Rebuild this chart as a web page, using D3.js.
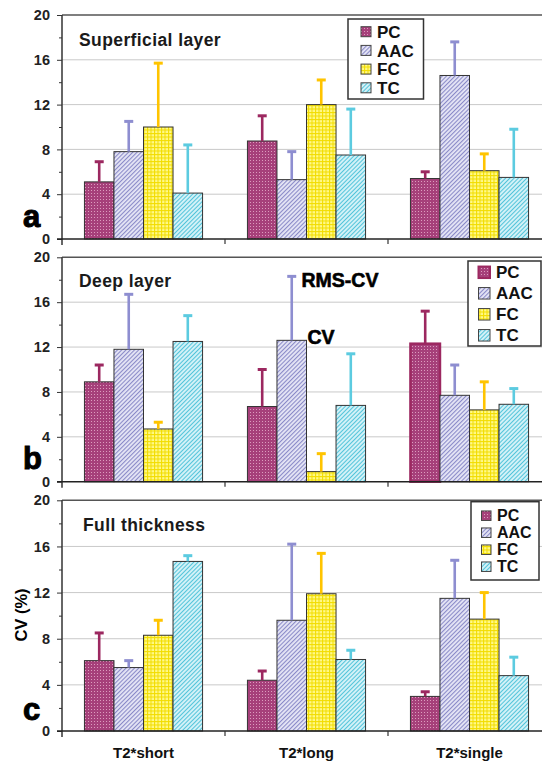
<!DOCTYPE html>
<html>
<head>
<meta charset="utf-8">
<script src="https://cdn.jsdelivr.net/npm/d3@7/dist/d3.min.js"></script>
<style>
  body { margin: 0; background: #fff; }
  text { font-family: 'Liberation Sans', Arial, sans-serif; }
</style>
</head>
<body>
<div id="chart"></div>
<script>
var categories = ['T2*short', 'T2*long', 'T2*single'];
var series = ['PC', 'AAC', 'FC', 'TC'];

// CV (bar height) and RMS-CV (top of error bar), one row per series
var superficialCV  = [[5.1, 8.75, 5.4], [7.8, 5.3, 14.6], [10.0, 12.0, 6.1], [4.1, 7.5, 5.5]];
var superficialRMS = [[6.9, 11.0, 6.0], [10.5, 7.8, 17.6], [15.7, 14.2, 7.6], [8.4, 11.6, 9.8]];
var deepCV  = [[8.9, 6.7, 12.3], [11.8, 12.6, 7.7], [4.7, 0.9, 6.4], [12.5, 6.8, 6.9]];
var deepRMS = [[10.4, 10.0, 15.2], [16.7, 18.3, 10.4], [5.3, 2.5, 8.9], [14.8, 11.4, 8.3]];
var fullCV  = [[6.1, 4.4, 3.0], [5.5, 9.6, 11.5], [8.3, 11.9, 9.7], [14.7, 6.2, 4.8]];
var fullRMS = [[8.5, 5.2, 3.4], [6.1, 16.2, 14.8], [9.6, 15.4, 12.0], [15.2, 7.0, 6.4]];

var majorTicks = [0, 4, 8, 12, 16, 20];
var minorTicks = [2, 6, 10, 14, 18];

var width = 542, height = 767;
var axisX = 62, plotRight = 551;
var errColors = ['#9c2860', '#8e8ed0', '#ffc400', '#5ccbe0'];
var mainFont = "'Liberation Sans', Arial, sans-serif";

var panels = [
    { label: 'a', title: 'Superficial layer', top: 15, bottom: 239, cv: superficialCV, rms: superficialRMS,
      titleX: 79, titleY: 46, labelY: 227,
      legend: { x: 348, y: 19, w: 75.5, h: 80, first: 12.7, row: 18.7, sw: 10, tx: 377, font: 17 } },
    { label: 'b', title: 'Deep layer', top: 257.3, bottom: 481.7, cv: deepCV, rms: deepRMS,
      titleX: 79, titleY: 287, labelY: 469,
      legend: { x: 468, y: 261, w: 73, h: 85, first: 11.3, row: 21, sw: 11.5, tx: 496, font: 17 } },
    { label: 'c', title: 'Full thickness', top: 500.3, bottom: 731, cv: fullCV, rms: fullRMS,
      titleX: 83, titleY: 531, labelY: 720,
      legend: { x: 471, y: 501.7, w: 68, h: 78.3, first: 14, row: 17, sw: 9.5, tx: 497, font: 16 } }
];

var svg = d3.select('#chart').append('svg')
    .attr('width', width)
    .attr('height', height)
    .style('display', 'block');

svg.append('rect').attr('width', width).attr('height', height).attr('fill', '#fff');

makePatterns();

var x0 = d3.scaleBand().domain(categories).range([axisX, plotRight]).paddingInner(0).paddingOuter(0);
var x1 = d3.scaleBand().domain(series).range([0, x0.bandwidth()]).paddingInner(0).paddingOuter(0.76);

panels.forEach(function(p, pi) {
    drawPanel(p, pi);
});

// annotation in the deep layer panel
var pb = panels[1];
var yb = d3.scaleLinear().domain([0, 20]).range([pb.bottom, pb.top]);
var annX = x0('T2*long') + x1('AAC') + x1.bandwidth();
svg.append('text')
    .attr('x', annX - 5)
    .attr('y', yb(pb.rms[1][1]) + 11)
    .style('font-size', '19.5px').style('font-weight', 'bold')
    .style('stroke', '#000').style('stroke-width', 0.6)
    .text('RMS-CV');
svg.append('text')
    .attr('x', annX + 1)
    .attr('y', yb(pb.cv[1][1]) + 4)
    .style('font-size', '19.5px').style('font-weight', 'bold')
    .style('stroke', '#000').style('stroke-width', 0.6)
    .text('CV');

// y axis title
svg.append('text')
    .attr('transform', 'translate(27,615) rotate(-90)')
    .attr('text-anchor', 'middle')
    .style('font-size', '16.5px').style('font-weight', 'bold')
    .text('CV (%)');

// category labels
svg.selectAll('.cat-label').data(categories).enter().append('text')
    .attr('class', 'cat-label')
    .attr('x', function(d) { return x0(d) + x0.bandwidth() / 2; })
    .attr('y', 758)
    .attr('text-anchor', 'middle')
    .style('font-size', '15px').style('font-weight', 'bold')
    .style('fill', '#111')
    .text(function(d) { return d; });

function drawPanel(p, pi) {
    var y = d3.scaleLinear().domain([0, 20]).range([p.bottom, p.top]);
    var g = svg.append('g');

    // grid lines
    g.selectAll('.grid').data([4, 8, 12, 16]).enter().append('line')
        .attr('x1', axisX).attr('x2', width)
        .attr('y1', function(d) { return y(d); })
        .attr('y2', function(d) { return y(d); })
        .attr('stroke', '#c9c9c9').attr('stroke-width', 1);
    g.append('line')
        .attr('x1', axisX).attr('x2', width)
        .attr('y1', y(20)).attr('y2', y(20))
        .attr('stroke', '#555').attr('stroke-width', 1.5);

    // bars
    var rows = [];
    series.forEach(function(s, si) {
        categories.forEach(function(c, ci) {
            rows.push({ s: s, si: si, c: c, v: p.cv[si][ci], top: p.rms[si][ci] });
        });
    });

    var bars = g.selectAll('.bar').data(rows).enter();
    bars.append('rect')
        .attr('x', function(d) { return x0(d.c) + x1(d.s); })
        .attr('y', function(d) { return y(d.v); })
        .attr('width', x1.bandwidth())
        .attr('height', function(d) { return y(0) - y(d.v); })
        .attr('fill', function(d) { return 'url(#pat' + d.si + ')'; })
        .attr('stroke', function(d) { return (pi === 1 && d.si === 0 && d.c === 'T2*single') ? '#9c2860' : '#333'; })
        .attr('stroke-width', function(d) { return (pi === 1 && d.si === 0 && d.c === 'T2*single') ? 2.5 : 1; });

    // error bars
    bars.append('line')
        .attr('x1', function(d) { return x0(d.c) + x1(d.s) + x1.bandwidth() / 2; })
        .attr('x2', function(d) { return x0(d.c) + x1(d.s) + x1.bandwidth() / 2; })
        .attr('y1', function(d) { return y(d.v); })
        .attr('y2', function(d) { return y(d.top); })
        .attr('stroke', function(d) { return errColors[d.si]; })
        .attr('stroke-width', 2.6);
    bars.append('line')
        .attr('x1', function(d) { return x0(d.c) + x1(d.s) + x1.bandwidth() / 2 - 4.5; })
        .attr('x2', function(d) { return x0(d.c) + x1(d.s) + x1.bandwidth() / 2 + 4.5; })
        .attr('y1', function(d) { return y(d.top); })
        .attr('y2', function(d) { return y(d.top); })
        .attr('stroke', function(d) { return errColors[d.si]; })
        .attr('stroke-width', 3);

    // y axis
    var yAxis = d3.axisLeft(y).tickValues(majorTicks).tickSize(5).tickPadding(7).tickFormat(d3.format('d'));
    var ya = g.append('g').attr('transform', 'translate(' + axisX + ',0)').call(yAxis);
    ya.select('.domain').remove();
    ya.selectAll('line').attr('stroke', '#333');
    ya.selectAll('text')
        .style('font-family', mainFont).style('font-size', '14.5px').style('font-weight', 'bold')
        .style('fill', '#222');
    var yMinor = d3.axisLeft(y).tickValues(minorTicks).tickSize(3).tickFormat('');
    var ym = g.append('g').attr('transform', 'translate(' + axisX + ',0)').call(yMinor);
    ym.select('.domain').remove();
    ym.selectAll('line').attr('stroke', '#333');

    g.append('line')
        .attr('x1', axisX).attr('x2', axisX)
        .attr('y1', y(20)).attr('y2', y(0) + 6)
        .attr('stroke', '#333').attr('stroke-width', 1.5);

    // x axis
    g.append('line')
        .attr('x1', axisX - 5).attr('x2', width)
        .attr('y1', y(0)).attr('y2', y(0))
        .attr('stroke', '#222').attr('stroke-width', 1.5);
    g.selectAll('.xtick').data(categories.slice(1)).enter().append('line')
        .attr('x1', function(d) { return x0(d); })
        .attr('x2', function(d) { return x0(d); })
        .attr('y1', y(0)).attr('y2', y(0) + 5)
        .attr('stroke', '#333').attr('stroke-width', 1.2);

    // title and panel letter
    g.append('text')
        .attr('x', p.titleX).attr('y', p.titleY)
        .style('font-size', '17.5px').style('font-weight', 'bold')
        .style('letter-spacing', '0.4px')
        .style('fill', '#1a1a1a')
        .text(p.title);
    g.append('text')
        .attr('x', 23).attr('y', p.labelY)
        .style('font-size', '31px').style('font-weight', 'bold')
        .style('stroke', '#000').style('stroke-width', 1)
        .text(p.label);

    drawLegend(g, p.legend, pi);
}

function drawLegend(g, L, pi) {
    g.append('rect')
        .attr('x', L.x).attr('y', L.y)
        .attr('width', L.w).attr('height', L.h)
        .attr('fill', '#fff').attr('stroke', '#333').attr('stroke-width', 1.5);
    series.forEach(function(s, si) {
        var cy = L.y + L.first + si * L.row;
        g.append('rect')
            .attr('x', L.tx - 6 - L.sw).attr('y', cy - L.sw / 2)
            .attr('width', L.sw).attr('height', L.sw)
            .attr('fill', 'url(#pat' + si + ')')
            .attr('stroke', (pi === 1 && si === 0) ? '#9c2860' : '#444')
            .attr('stroke-width', (pi === 1 && si === 0) ? 2 : 1);
        g.append('text')
            .attr('x', L.tx).attr('y', cy + L.font * 0.36)
            .style('font-size', L.font + 'px').style('font-weight', 'bold')
            .style('fill', '#111')
            .text(s);
    });
}

function makePatterns() {
    var defs = svg.append('defs');

    // PC: dotted magenta
    var p0 = defs.append('pattern').attr('id', 'pat0')
        .attr('patternUnits', 'userSpaceOnUse').attr('width', 3).attr('height', 3);
    p0.append('rect').attr('width', 3).attr('height', 3).attr('fill', '#a6407a');
    p0.append('rect').attr('x', 1).attr('y', 1).attr('width', 1).attr('height', 1).attr('fill', '#dc9cbe');

    // AAC: lavender diagonal
    var p1 = defs.append('pattern').attr('id', 'pat1')
        .attr('patternUnits', 'userSpaceOnUse').attr('width', 3).attr('height', 3)
        .attr('patternTransform', 'rotate(45)');
    p1.append('rect').attr('width', 3).attr('height', 3).attr('fill', '#e6e6f6');
    p1.append('line').attr('x1', 0).attr('x2', 0).attr('y1', 0).attr('y2', 3)
        .attr('stroke', '#8a8ac8').attr('stroke-width', 2.2);

    // FC: yellow grid
    var p2 = defs.append('pattern').attr('id', 'pat2')
        .attr('patternUnits', 'userSpaceOnUse').attr('width', 3.5).attr('height', 3.5);
    p2.append('rect').attr('width', 3.5).attr('height', 3.5).attr('fill', '#fff98a');
    p2.append('line').attr('x1', 0).attr('x2', 3.5).attr('y1', 0.5).attr('y2', 0.5)
        .attr('stroke', '#f2dc00').attr('stroke-width', 1.1);
    p2.append('line').attr('x1', 0.5).attr('x2', 0.5).attr('y1', 0).attr('y2', 3.5)
        .attr('stroke', '#f2dc00').attr('stroke-width', 1.1);

    // TC: cyan diagonal
    var p3 = defs.append('pattern').attr('id', 'pat3')
        .attr('patternUnits', 'userSpaceOnUse').attr('width', 3).attr('height', 3)
        .attr('patternTransform', 'rotate(45)');
    p3.append('rect').attr('width', 3).attr('height', 3).attr('fill', '#d2f1f7');
    p3.append('line').attr('x1', 0).attr('x2', 0).attr('y1', 0).attr('y2', 3)
        .attr('stroke', '#4cc2d9').attr('stroke-width', 1.9);
}
</script>
</body>
</html>
